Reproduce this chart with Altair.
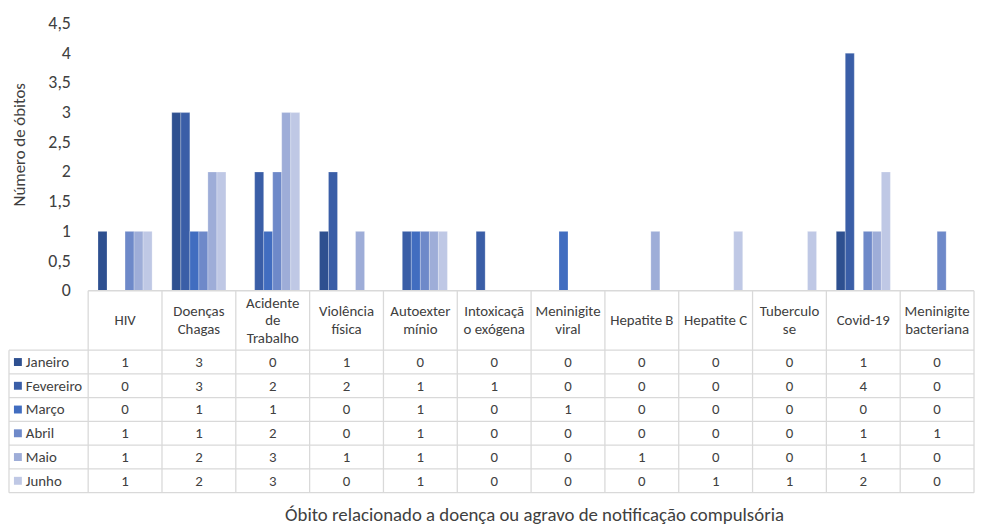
import altair as alt
import pandas as pd

# ---------------- data ----------------
categories = ["HIV", "Doenças Chagas", "Acidente de Trabalho", "Violência física",
              "Autoextermínio", "Intoxicação exógena", "Meninigite viral", "Hepatite B",
              "Hepatite C", "Tuberculose", "Covid-19", "Meninigite bacteriana"]
header_labels = [["HIV"], ["Doenças", "Chagas"], ["Acidente", "de", "Trabalho"],
                 ["Violência", "física"], ["Autoexter", "mínio"], ["Intoxicaçã", "o exógena"],
                 ["Meninigite", "viral"], ["Hepatite B"], ["Hepatite C"], ["Tuberculo", "se"],
                 ["Covid-19"], ["Meninigite", "bacteriana"]]
months = ["Janeiro", "Fevereiro", "Março", "Abril", "Maio", "Junho"]

janeiro = [1, 3, 0, 1, 0, 0, 0, 0, 0, 0, 1, 0]
fevereiro = [0, 3, 2, 2, 1, 1, 0, 0, 0, 0, 4, 0]
marco = [0, 1, 1, 0, 1, 0, 1, 0, 0, 0, 0, 0]
abril = [1, 1, 2, 0, 1, 0, 0, 0, 0, 0, 1, 1]
maio = [1, 2, 3, 1, 1, 0, 0, 1, 0, 0, 1, 0]
junho = [1, 2, 3, 0, 1, 0, 0, 0, 1, 1, 2, 0]

y_ticks = [0, 0.5, 1, 1.5, 2, 2.5, 3, 3.5, 4, 4.5]

y_title = "Número de óbitos"
x_title = "Óbito relacionado a doença ou agravo de notificação compulsória"

colors = ["#2E5090", "#3A5EA7", "#416DC0", "#6E89C9", "#9EADD8", "#BFC8E5"]

# ---------------- layout ----------------
W = 895
H = 474
LEFT = 80
NC = len(categories)
STEP = W / NC
LEFT_U = LEFT / STEP     # legend column width in table x-units
HEADER_H = 1.0          # in y-units (60 px)
ROW_H = 0.4             # in y-units (24 px)
LINE_H = 0.3            # header text line spacing in y-units (18 px)
Y_MAX = 4.5
Y_MIN = -(HEADER_H + ROW_H * len(months))

FONT = "Carlito, Lato, sans-serif"
TXT = "#404040"
GRID = "#D9D9D9"
GW = 1.3
TFS = 15

series = dict(zip(months, [janeiro, fevereiro, marco, abril, maio, junho]))

rows = []
for mi, m in enumerate(months):
    for ci, c in enumerate(categories):
        rows.append({"category": c, "col": ci + 0.5, "month": m, "value": series[m][ci],
                     "ypos": -(HEADER_H + ROW_H * (mi + 0.5))})
df = pd.DataFrame(rows)

hdr = []
for ci, lines in enumerate(header_labels):
    n = len(lines)
    for k, t in enumerate(lines):
        hdr.append({"col": ci + 0.5, "label": t,
                    "ypos": -HEADER_H / 2 - (k - (n - 1) / 2) * LINE_H})
df_header = pd.DataFrame(hdr)

df_months = pd.DataFrame({"month": months,
                          "ypos": [-(HEADER_H + ROW_H * (i + 0.5)) for i in range(len(months))]})

# grid segments of the data table (x in column units, y in value units)
seg = []
for i in range(NC + 1):
    seg.append({"x0": i, "x1": i, "y0": 0.0, "y1": Y_MIN})
seg.append({"x0": -LEFT_U, "x1": -LEFT_U, "y0": -HEADER_H, "y1": Y_MIN})
seg.append({"x0": 0, "x1": NC, "y0": 0.0, "y1": 0.0})
for i in range(len(months) + 1):
    yy = -(HEADER_H + ROW_H * i)
    seg.append({"x0": -LEFT_U, "x1": NC, "y0": yy, "y1": yy})
df_seg = pd.DataFrame(seg)

yscale = alt.Scale(domain=[Y_MIN, Y_MAX], nice=False)
xscale_t = alt.Scale(domain=[0, NC], nice=False, zero=False)
color_scale = alt.Scale(domain=months, range=colors)

y_axis = alt.Axis(values=y_ticks,
                  labelExpr="replace(format(datum.value, '~g'), '.', ',')",
                  ticks=False, domain=False, grid=False, labelPadding=18,
                  labelFontSize=18, labelColor=TXT, labelFont=FONT,
                  title=y_title, titleFontSize=17, titleColor=TXT, titleFont=FONT,
                  titleFontWeight="normal", titleX=-64, titleY=122,
                  titleBaseline="alphabetic", titleAngle=-90)

x_axis = alt.Axis(labels=False, ticks=False, domain=False, grid=False,
                  title=x_title, titlePadding=13, titleFontSize=19, titleColor=TXT,
                  titleFont=FONT, titleFontWeight="normal", titleX=W / 2 + 3)


def Y(field):
    return alt.Y(field, scale=yscale, axis=y_axis)


def XT(field):
    return alt.X(field, scale=xscale_t, axis=x_axis)


bars = alt.Chart(df).transform_filter("datum.value > 0").mark_bar(
    stroke="white", strokeWidth=0.4, strokeOpacity=0.6
).encode(
    x=alt.X("category:N", sort=categories,
            scale=alt.Scale(domain=categories, paddingInner=0.267, paddingOuter=0.133),
            axis=None),
    xOffset=alt.XOffset("month:N", scale=alt.Scale(domain=months, paddingInner=0, paddingOuter=0)),
    y=Y("value:Q"),
    color=alt.Color("month:N", scale=color_scale, legend=None),
)

grid = alt.Chart(df_seg).mark_rule(color=GRID, strokeWidth=GW).encode(
    x=XT("x0:Q"), x2="x1:Q", y=Y("y0:Q"), y2="y1:Q",
)

header = alt.Chart(df_header).mark_text(
    fontSize=TFS, color=TXT, font=FONT, baseline="middle"
).encode(
    x=XT("col:Q"), y=Y("ypos:Q"), text="label:N",
)

values = alt.Chart(df).mark_text(
    fontSize=TFS, color=TXT, font=FONT, baseline="middle"
).encode(
    x=XT("col:Q"), y=Y("ypos:Q"), text="value:Q",
)

swatches = alt.Chart(df_months).mark_square(size=64, opacity=1).encode(
    x=alt.value(-71),
    y=Y("ypos:Q"),
    color=alt.Color("month:N", scale=color_scale, legend=None),
)
month_labels = alt.Chart(df_months).mark_text(
    fontSize=TFS, color=TXT, font=FONT, baseline="middle", align="left"
).encode(
    x=alt.value(-63),
    y=Y("ypos:Q"),
    text="month:N",
)

table = alt.layer(grid, header, values, swatches, month_labels)

chart = alt.layer(bars, table).resolve_scale(x="independent").properties(
    width=W, height=H,
    padding={"left": 0, "top": 4, "right": 0, "bottom": 0},
).configure(
    font=FONT
).configure_view(
    stroke="transparent", strokeWidth=0
).configure_axis(
    domain=False, grid=False, ticks=False
)

chart.save("out.html", embed_options={"renderer": "svg", "actions": False})
